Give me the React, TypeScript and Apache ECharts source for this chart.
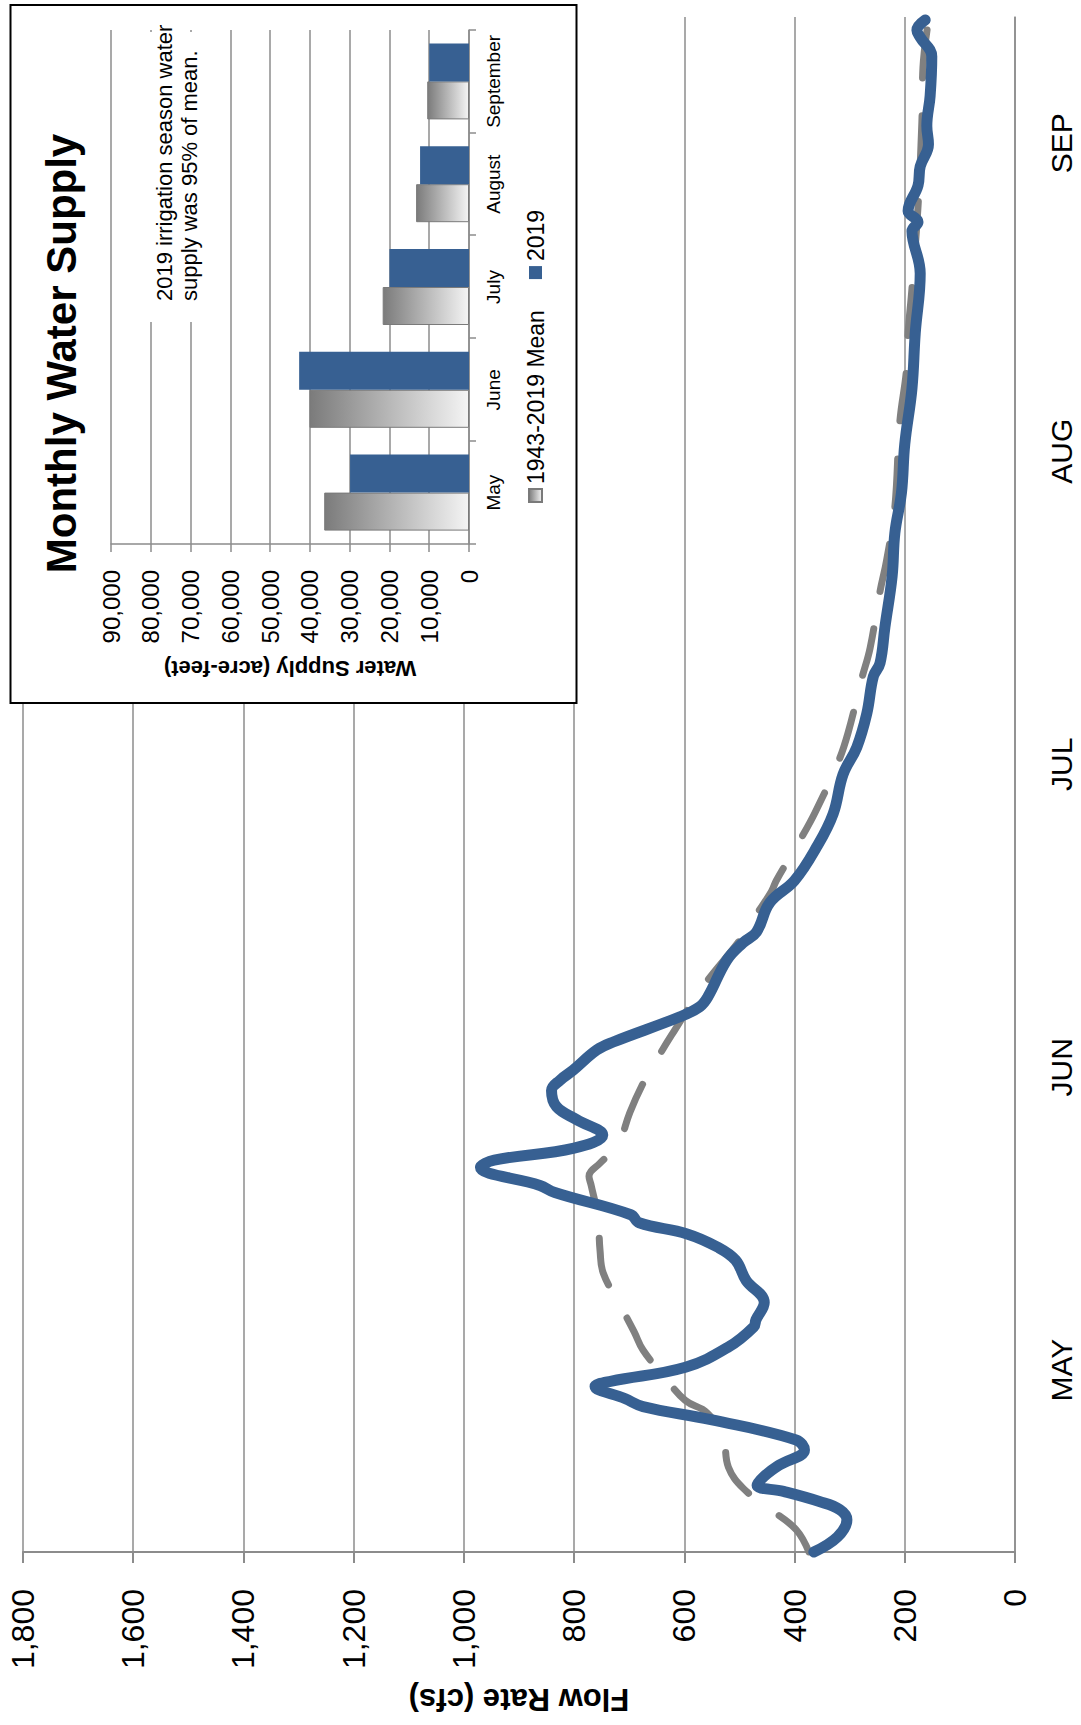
import React, { useEffect, useRef } from 'react';
import * as echarts from 'echarts';

// Chart is drawn in its natural landscape orientation (W x H) and rotated -90deg to fill the portrait page.
const W = 1725;
const H = 1081;
const FONT = '"Liberation Sans", Arial, Helvetica, sans-serif';

// Time axis: days since start of the irrigation season (May 1 .. Sep 30)
const monthNames = ['MAY', 'JUN', 'JUL', 'AUG', 'SEP'];
const monthLabelDays = [18, 48, 78, 109, 139.5];

// 2019 daily flow (cfs)
const days2019 = [0, 1.5, 3.2, 4.2, 5.0, 6.0, 6.6, 7.5, 8.6, 10.1, 11.1, 13.1, 14.4, 15.2, 16.4, 16.9, 18.3, 20.3, 22.3, 23.0, 24.7, 26.9, 28.9, 30.2, 31.5, 32.6, 33.4, 35.6, 36.3, 38.1, 38.8, 40.0, 41.3, 42.8, 44.1, 45.7, 46.7, 47.7, 49.7, 50.5, 53.0, 54.0, 55.0, 58.6, 60.3, 61.4, 64.3, 66.5, 69.8, 73.1, 77.0, 79.7, 83.0, 86.7, 88.0, 91.6, 96.6, 100.9, 104.9, 109.7, 115.2, 120.7, 126.6, 129.9, 130.8, 131.7, 132.8, 135.3, 137.2, 139.4, 141.2, 144.2, 148.1, 150.0, 150.7, 151.7];
const flow2019 = [365, 322, 305, 318, 355, 420, 468, 455, 428, 382, 397, 552, 675, 708, 762, 734, 598, 520, 474, 470, 455, 488, 507, 540, 595, 682, 697, 835, 862, 970, 945, 800, 748, 795, 832, 841, 826, 802, 759, 729, 608, 572, 557, 523, 494, 469, 445, 400, 360, 330, 312, 287, 269, 257, 245, 236, 223, 218, 206, 200, 187, 181, 172, 185, 187, 176, 194, 176, 172, 157, 160, 154, 151, 172, 178, 163];

// 1943-2019 mean flow (cfs)
const daysMean = [0, 2.2, 4.2, 6.3, 8.4, 11.4, 13.8, 15.0, 17.4, 20.0, 21.8, 24.3, 27.6, 29.9, 33.2, 36.3, 37.2, 38.5, 39.8, 40.6, 43.5, 46.4, 48.5, 51.2, 56.0, 60.6, 62.9, 65.4, 66.5, 70.5, 73.2, 78.2, 81.1, 86.5, 89.5, 95.1, 98.2, 103.5, 111.9, 117.0, 120.7, 125.1, 133.2, 141.6, 147.0, 151.3];
const flowMean = [374, 397, 443, 493, 520, 530, 559, 598, 637, 675, 691, 715, 747, 753, 757, 769, 773, 753, 728, 717, 699, 675, 653, 623, 566, 499, 472, 442, 433, 390, 363, 321, 303, 278, 263, 245, 233, 218, 209, 197, 194, 187, 176, 169, 167, 158];

// Inset: monthly water supply (acre-feet)
const supplyMonths = ['May', 'June', 'July', 'August', 'September'];
const supplyMean = [36400, 40100, 21700, 13300, 10500];
const supply2019 = [29900, 42700, 20000, 12300, 10000];

const GRID_COLOR = '#8c8c8c';
const BLUE = '#376092';
const GREY = '#808080';

const fmt = (v: number) => Number(v).toLocaleString('en-US');

function buildOption() {
  const greyGradient = new echarts.graphic.LinearGradient(0, 0, 0, 1, [
    { offset: 0, color: '#7b7b7b' },
    { offset: 1, color: '#f4f4f4' },
  ]);
  return {
    animation: false,
    backgroundColor: '#ffffff',
    textStyle: { fontFamily: FONT },
    grid: [
      { left: 173, right: 17, top: 23, bottom: 66 },
      { left: 1181, right: 30, top: 111, bottom: 612, z: 3 },
    ],
    xAxis: [
      {
        gridIndex: 0,
        type: 'value',
        min: 0,
        max: 152,
        axisLine: { show: true, lineStyle: { color: GRID_COLOR, width: 1.5 } },
        axisTick: { show: false },
        splitLine: { show: false },
        axisLabel: {
          customValues: monthLabelDays,
          formatter: (v: number) => {
            const i = monthLabelDays.findIndex((d) => Math.abs(d - v) < 0.01);
            return i >= 0 ? monthNames[i] : '';
          },
          fontSize: 30,
          color: '#000',
          margin: 31,
          fontFamily: FONT,
        },
      },
      {
        gridIndex: 1,
        type: 'category',
        data: supplyMonths,
        z: 3,
        axisLine: { show: true, lineStyle: { color: GRID_COLOR, width: 1.5 } },
        axisTick: { show: true, length: 7, lineStyle: { color: GRID_COLOR, width: 1.5 } },
        axisLabel: { interval: 0, fontSize: 19, color: '#000', margin: 15, fontFamily: FONT },
        splitLine: { show: false },
      },
    ],
    yAxis: [
      {
        gridIndex: 0,
        type: 'value',
        min: 0,
        max: 1800,
        interval: 200,
        name: 'Flow Rate (cfs)',
        nameLocation: 'middle',
        nameRotate: 90,
        nameGap: 132,
        nameTextStyle: { fontSize: 31, fontWeight: 'bold', color: '#000', fontFamily: FONT },
        axisLine: { show: true, lineStyle: { color: GRID_COLOR, width: 2 } },
        axisTick: { show: true, length: 11, lineStyle: { color: GRID_COLOR, width: 2 } },
        axisLabel: { fontSize: 32, color: '#000', margin: 37, formatter: fmt, fontFamily: FONT },
        splitLine: { show: true, lineStyle: { color: GRID_COLOR, width: 1.5 } },
      },
      {
        gridIndex: 1,
        type: 'value',
        min: 0,
        max: 90000,
        interval: 10000,
        z: 3,
        name: 'Water Supply (acre-feet)',
        nameLocation: 'middle',
        nameRotate: 90,
        nameGap: 113,
        nameTextStyle: { fontSize: 22, fontWeight: 'bold', color: '#000', fontFamily: FONT },
        axisLine: { show: true, lineStyle: { color: GRID_COLOR, width: 1.5 } },
        axisTick: { show: true, length: 8, lineStyle: { color: GRID_COLOR, width: 1.5 } },
        axisLabel: { fontSize: 24, color: '#000', margin: 26, formatter: fmt, fontFamily: FONT },
        splitLine: { show: true, lineStyle: { color: GRID_COLOR, width: 1.5 } },
      },
    ],
    legend: {
      data: ['1943-2019 Mean', '2019'],
      left: 1222,
      top: 524,
      orient: 'horizontal',
      icon: 'rect',
      itemWidth: 13,
      itemHeight: 13,
      itemGap: 31,
      padding: 0,
      z: 6,
      textStyle: { fontSize: 23, color: '#000', fontFamily: FONT },
    },
    graphic: {
      elements: [
        {
          type: 'rect',
          z: 1,
          shape: { x: 1022, y: 10.5, width: 698, height: 566 },
          style: { fill: '#ffffff', stroke: '#000000', lineWidth: 2 },
        },
        {
          type: 'rect',
          z: 5,
          shape: { x: 1403, y: 141, width: 290, height: 66 },
          style: { fill: '#ffffff' },
        },
        {
          type: 'text',
          z: 6,
          x: 1424,
          y: 151.5,
          style: {
            text: '2019 irrigation season water\nsupply was 95% of mean.',
            fontSize: 22,
            lineHeight: 25,
            fill: '#000',
            fontFamily: FONT,
            textVerticalAlign: 'top',
            verticalAlign: 'top',
          },
        },
        {
          type: 'text',
          z: 6,
          x: 1371.5,
          y: 61,
          style: {
            text: 'Monthly Water Supply',
            fontSize: 42,
            fontWeight: 'bold',
            fill: '#000',
            fontFamily: FONT,
            textAlign: 'center',
            align: 'center',
            textVerticalAlign: 'middle',
            verticalAlign: 'middle',
          },
        },
      ],
    },
    series: [
      {
        name: 'Mean flow',
        type: 'line',
        xAxisIndex: 0,
        yAxisIndex: 0,
        data: daysMean.map((d, i) => [d, flowMean[i]]),
        smooth: 0.4,
        showSymbol: false,
        symbol: 'none',
        z: 2,
        lineStyle: { color: GREY, width: 7, type: [48, 38], cap: 'round', join: 'round' },
      },
      {
        name: 'Flow 2019',
        type: 'line',
        xAxisIndex: 0,
        yAxisIndex: 0,
        data: days2019.map((d, i) => [d, flow2019[i]]),
        smooth: 0.4,
        showSymbol: false,
        symbol: 'none',
        z: 3,
        lineStyle: { color: BLUE, width: 11, cap: 'round', join: 'round' },
      },
      {
        name: '1943-2019 Mean',
        type: 'bar',
        xAxisIndex: 1,
        yAxisIndex: 1,
        data: supplyMean,
        barWidth: 38,
        barGap: '0%',
        z: 4,
        itemStyle: { color: greyGradient, borderColor: '#7a7a7a', borderWidth: 1 },
      },
      {
        name: '2019',
        type: 'bar',
        xAxisIndex: 1,
        yAxisIndex: 1,
        data: supply2019,
        barWidth: 38,
        barGap: '0%',
        z: 4,
        itemStyle: { color: BLUE },
      },
    ],
  };
}

export default function App() {
  const ref = useRef<HTMLDivElement>(null);
  useEffect(() => {
    document.body.style.margin = '0';
    const el = ref.current;
    if (!el) return;
    const chart = echarts.init(el, null, { renderer: 'svg', width: W, height: H });
    chart.setOption(buildOption() as any);
    return () => {
      chart.dispose();
    };
  }, []);
  return (
    <div
      style={{
        position: 'absolute',
        left: 0,
        top: 0,
        width: H,
        height: W,
        overflow: 'hidden',
        background: '#ffffff',
      }}
    >
      <div
        ref={ref}
        style={{
          position: 'absolute',
          left: 0,
          top: 0,
          width: W,
          height: H,
          transformOrigin: '0 0',
          transform: `translateY(${W}px) rotate(-90deg)`,
        }}
      />
    </div>
  );
}
